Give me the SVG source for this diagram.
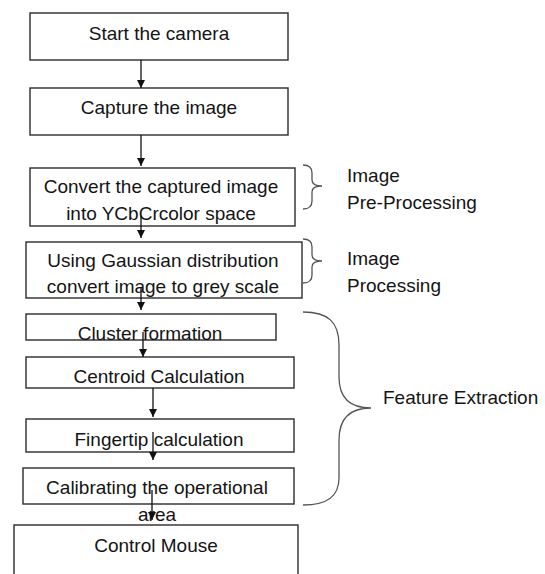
<svg xmlns="http://www.w3.org/2000/svg" width="545" height="574" viewBox="0 0 545 574">
  <style>
    .box { fill: #ffffff; stroke: #2b2b2b; stroke-width: 1.4; }
    .lbl { font-family: "Liberation Sans", Arial, sans-serif; font-size: 19px; fill: #141414; text-anchor: middle; }
    .side { font-family: "Liberation Sans", Arial, sans-serif; font-size: 19px; fill: #141414; }
    .arrow { stroke: #111111; stroke-width: 1.3; fill: none; marker-end: url(#head); }
    .brace { stroke: #555555; stroke-width: 1.3; fill: none; }
  </style>
  <defs>
    <marker id="head" markerWidth="8" markerHeight="9" refX="8" refY="4" orient="auto" markerUnits="userSpaceOnUse">
      <path d="M0,0 L8,4 L0,8 Z" fill="#111111"/>
    </marker>
  </defs>

  <rect width="545" height="574" fill="#ffffff"/>

  <!-- process steps -->
  <g id="start-camera">
    <rect class="box" x="30" y="13" width="258" height="47"/>
    <text class="lbl" x="159" y="40">Start the camera</text>
  </g>
  <g id="capture-image">
    <rect class="box" x="30" y="88" width="258" height="47"/>
    <text class="lbl" x="159" y="114">Capture the image</text>
  </g>
  <g id="convert-ycbcr">
    <rect class="box" x="30" y="168" width="265" height="58"/>
    <text class="lbl" x="161" y="193">Convert the captured image</text>
    <text class="lbl" x="161" y="220">into YCbCrcolor space</text>
  </g>
  <g id="grey-scale">
    <rect class="box" x="26" y="242" width="276" height="56"/>
    <text class="lbl" x="163" y="267">Using Gaussian  distribution</text>
    <text class="lbl" x="163" y="293">convert image to grey scale</text>
  </g>
  <g id="cluster-formation">
    <rect class="box" x="26" y="314" width="250" height="26"/>
    <text class="lbl" x="150" y="340">Cluster formation</text>
  </g>
  <g id="centroid-calculation">
    <rect class="box" x="26" y="357" width="268" height="31"/>
    <text class="lbl" x="159" y="383">Centroid Calculation</text>
  </g>
  <g id="fingertip-calculation">
    <rect class="box" x="26" y="419" width="268" height="33"/>
    <text class="lbl" x="159" y="446">Fingertip calculation</text>
  </g>
  <g id="calibrate-area">
    <rect class="box" x="23" y="468" width="271" height="36"/>
    <text class="lbl" x="157" y="494">Calibrating the operational</text>
    <text class="lbl" x="157" y="521">area</text>
  </g>
  <g id="control-mouse">
    <rect class="box" x="14" y="525" width="284" height="60"/>
    <text class="lbl" x="156" y="552">Control Mouse</text>
  </g>

  <!-- stage groupings -->
  <g id="pre-processing">
    <path class="brace" d="M303,165 Q312,165 312,173 L312,180 Q312,186 322,186 Q312,186 312,192 L312,201 Q312,209 303,209"/>
    <text class="side" x="347" y="182">Image</text>
    <text class="side" x="347" y="209">Pre-Processing</text>
  </g>
  <g id="processing">
    <path class="brace" d="M303,239 Q312,239 312,247 L312,255 Q312,261 322,261 Q312,261 312,267 L312,275 Q312,283 303,283"/>
    <text class="side" x="347" y="265">Image</text>
    <text class="side" x="347" y="292">Processing</text>
  </g>
  <g id="feature-extraction">
    <path class="brace" d="M303,312 C328,312 339,322 339,345 L339,377 C339,398 350,408 371,408 C350,408 339,418 339,440 L339,478 C339,496 328,505 303,505"/>
    <text class="side" x="383" y="404">Feature Extraction</text>
  </g>

  <!-- connectors -->
  <g id="connectors">
    <line class="arrow" x1="141" y1="60" x2="141" y2="88"/>
    <line class="arrow" x1="141" y1="135" x2="141" y2="166"/>
    <line class="arrow" x1="141" y1="216" x2="141" y2="238"/>
    <line class="arrow" x1="141" y1="288" x2="141" y2="310"/>
    <line class="arrow" x1="143" y1="332" x2="143" y2="357"/>
    <line class="arrow" x1="153" y1="388" x2="153" y2="417"/>
    <line class="arrow" x1="153" y1="432" x2="153" y2="460"/>
    <line class="arrow" x1="152" y1="490" x2="152" y2="520"/>
  </g>
</svg>
